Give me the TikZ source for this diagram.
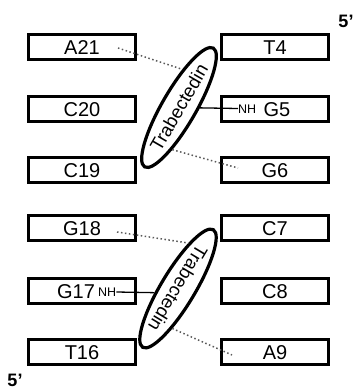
\documentclass[tikz,border=0pt]{standalone}
\usepackage{fontspec}
\setmainfont{Liberation Sans}
\usetikzlibrary{shapes.geometric}
\begin{document}
\begin{tikzpicture}[x=1pt,y=-1pt,
  box/.style={draw, line width=2.8pt, minimum width=107.5pt, minimum height=24.5pt, inner sep=0pt, font=\fontsize{20}{22}\selectfont, text height=14.3pt, text depth=0pt},
  txt/.style={inner sep=0pt, font=\fontsize{20}{22}\selectfont, text height=14.3pt, text depth=0pt},
  nh/.style={inner sep=0pt, font=\fontsize{12.5}{14}\selectfont, text height=9pt, text depth=0pt},
  drug/.style={draw, ellipse, line width=3.2pt, minimum width=136pt, minimum height=34pt, inner sep=0pt, font=\fontsize{18.5}{20}\selectfont, text height=13pt, text depth=0pt},
  hbond/.style={draw=black!65, line width=1.5pt, dash pattern=on 1.5pt off 2.5pt},
  link/.style={line width=1.3pt},
  prime/.style={inner sep=0pt, font=\bfseries\fontsize{18}{20}\selectfont, text height=13pt, text depth=0pt}
]
\useasboundingbox (0,0) rectangle (354,389);
% left strand
\node[box] (a21) at (82,47) {A21};
\node[box] (c20) at (82,109) {C20};
\node[box] (c19) at (82,170) {C19};
\node[box] (g18) at (82,228) {G18};
\node[box] (g17) at (82,291) {};
\node[box] (t16) at (82,352) {T16};
% right strand
\node[box] (t4) at (275,47) {T4};
\node[box] (g5) at (275,109) {};
\node[box] (g6) at (275,170) {G6};
\node[box] (c7) at (275,228) {C7};
\node[box] (c8) at (275,291) {C8};
\node[box] (a9) at (275,352) {A9};
% labels with NH
\node[txt] (g5t) at (277,109) {G5};
\node[nh, anchor=west] (nh1) at (238,108.5) {NH};
\node[txt] (g17t) at (76,291) {G17};
\node[nh, anchor=west] (nh2) at (98,292) {NH};
% drugs
\node[drug, rotate=60] (e1) at (179,107.5) {Trabectedin};
\node[drug, rotate=239] (e2) at (178,288.5) {Trabectedin};
% connectors
\coordinate (a21d) at (118,48);
\coordinate (g6d) at (238,168);
\coordinate (g18d) at (117,232);
\coordinate (a9d) at (232,355);
\draw[hbond] (a21d) -- (e1.25);
\draw[hbond] (e1.201) -- (g6d);
\draw[link] (nh1.west) -- (e1);
\draw[hbond] (g18d) -- (e2.198);
\draw[hbond] (e2.23) -- (a9d);
\draw[link] (nh2.east) -- (e2.311);
% primes
\node[prime] (p1) at (346,21) {5’};
\node[prime] (p2) at (15,380) {5’};
\end{tikzpicture}
\end{document}
